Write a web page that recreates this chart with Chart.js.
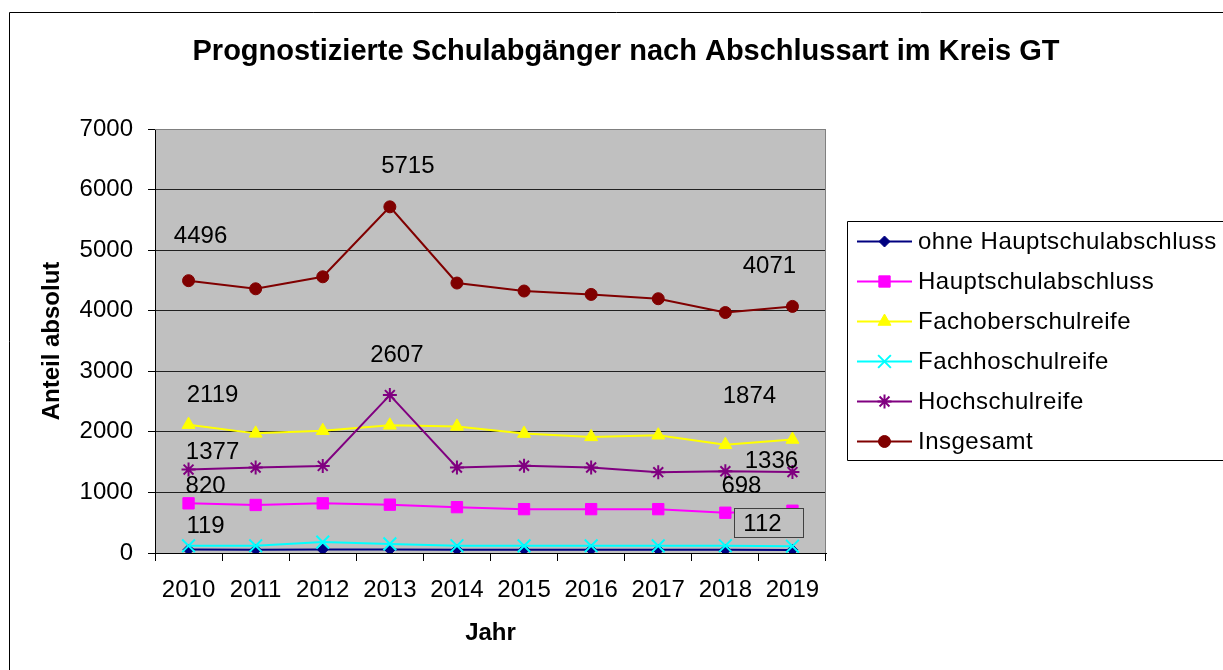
<!DOCTYPE html>
<html lang="de">
<head>
<meta charset="utf-8">
<title>Prognostizierte Schulabgänger nach Abschlussart im Kreis GT</title>
<script src="https://cdn.jsdelivr.net/npm/chart.js@4.4.1/dist/chart.umd.min.js"></script>
<style>
  html, body { margin: 0; padding: 0; background: #fff; }
  #chart { display: block; }
</style>
</head>
<body>
<canvas id="chart" width="1223" height="670" style="width:1223px;height:670px"></canvas>
<script>
// Schulabgänger Kreis GT — line chart, Excel look.

const years = ['2010', '2011', '2012', '2013', '2014', '2015', '2016', '2017', '2018', '2019'];
const yTicks = [0, 1000, 2000, 3000, 4000, 5000, 6000, 7000];

const ohneHauptschul = [56, 55, 58, 57, 55, 54, 54, 53, 52, 51];
const hauptschul = [820, 793, 820, 798, 757, 724, 724, 724, 665, 698];
const fachoberschul = [2119, 1975, 2020, 2108, 2090, 1972, 1917, 1944, 1788, 1874];
const fachhochschul = [119, 119, 180, 150, 120, 118, 119, 118, 120, 112];
const hochschul = [1377, 1410, 1438, 2607, 1412, 1440, 1412, 1335, 1350, 1336];
const insgesamt = [4496, 4362, 4560, 5715, 4457, 4325, 4269, 4198, 3970, 4071];

const FONT = "'Liberation Sans', Arial, sans-serif";
const PLOT_BG = '#C0C0C0';

// which point values get a label, and where it sits relative to the point
const labelSpots = [
  { ds: 5, i: 0, dx: 12, dy: -45 },
  { ds: 5, i: 3, dx: 18, dy: -41 },
  { ds: 5, i: 9, dx: -23, dy: -41 },
  { ds: 4, i: 0, dx: 24, dy: -18 },
  { ds: 4, i: 3, dx: 7, dy: -41 },
  { ds: 4, i: 9, dx: -21, dy: -12 },
  { ds: 2, i: 0, dx: 24, dy: -30 },
  { ds: 2, i: 9, dx: -43, dy: -44 },
  { ds: 1, i: 0, dx: 17, dy: -18 },
  { ds: 1, i: 9, dx: -51, dy: -25 },
  { ds: 3, i: 0, dx: 17, dy: -20 },
  { ds: 3, i: 9, dx: -30, dy: -23, box: { l: -28, r: 41, t: -15, b: 14 } },
];

function series(label, data, color, style, radius, bw) {
  return {
    label,
    data,
    borderColor: color,
    backgroundColor: color,
    borderWidth: 2,
    pointStyle: style,
    pointRadius: radius,
    pointHoverRadius: radius,
    pointBackgroundColor: color,
    pointBorderColor: color,
    pointBorderWidth: bw,
    tension: 0,
  };
}

const datasets = [
  series('ohne Hauptschulabschluss', ohneHauptschul, '#000080', 'rectRot', 5.5, 1),
  series('Hauptschulabschluss', hauptschul, '#FF00FF', 'rect', 8, 1),
  series('Fachoberschulreife', fachoberschul, '#FFFF00', 'triangle', 7.5, 1),
  series('Fachhoschulreife', fachhochschul, '#00FFFF', 'crossRot', 9, 2),
  series('Hochschulreife', hochschul, '#800080', 'star', 7, 2),
  series('Insgesamt', insgesamt, '#800000', 'circle', 6, 1),
];
// Excel paints later series on top
datasets.forEach((d, i) => { d.order = datasets.length - i; });

// ─── Plugins ───────────────────────────────────────────────────────────────

const frame = {
  id: 'frame',
  beforeDraw(chart) {
    const { ctx, chartArea: a } = chart;
    ctx.save();
    ctx.fillStyle = PLOT_BG;
    ctx.fillRect(a.left, a.top, a.right - a.left, a.bottom - a.top);
    // outer chart border (runs off the right and bottom)
    ctx.strokeStyle = '#000';
    ctx.lineWidth = 1;
    ctx.beginPath();
    ctx.moveTo(9.5, 700);
    ctx.lineTo(9.5, 12.5);
    ctx.lineTo(1300, 12.5);
    ctx.stroke();
    // title
    ctx.fillStyle = '#000';
    ctx.font = 'bold 29px ' + FONT;
    ctx.textAlign = 'center';
    ctx.textBaseline = 'middle';
    ctx.fillText('Prognostizierte Schulabgänger nach Abschlussart im Kreis GT', 626, 52);
    ctx.restore();
  },
  beforeDatasetsDraw(chart) {
    const { ctx, chartArea: a } = chart;
    ctx.save();
    ctx.strokeStyle = '#808080';
    ctx.lineWidth = 1;
    ctx.beginPath();
    ctx.moveTo(a.left, a.top + 0.5);
    ctx.lineTo(a.right - 0.5, a.top + 0.5);
    ctx.lineTo(a.right - 0.5, a.bottom);
    ctx.stroke();
    ctx.restore();
  }
};

const valueLabels = {
  id: 'valueLabels',
  afterDatasetsDraw(chart) {
    const { ctx } = chart;
    ctx.save();
    ctx.font = '24px ' + FONT;
    ctx.textAlign = 'center';
    ctx.textBaseline = 'middle';
    labelSpots.forEach(s => {
      const pt = chart.getDatasetMeta(s.ds).data[s.i];
      const x = pt.x + s.dx;
      const y = pt.y + s.dy;
      if (s.box) {
        ctx.fillStyle = PLOT_BG;
        ctx.fillRect(x + s.box.l, y + s.box.t, s.box.r - s.box.l, s.box.b - s.box.t);
        ctx.strokeStyle = '#404040';
        ctx.lineWidth = 1;
        ctx.strokeRect(Math.round(x + s.box.l) + 0.5, Math.round(y + s.box.t) + 0.5,
          Math.round(s.box.r - s.box.l), Math.round(s.box.b - s.box.t));
      }
      ctx.fillStyle = '#000';
      ctx.fillText(String(chart.data.datasets[s.ds].data[s.i]), x, y + 1);
    });
    ctx.restore();
  }
};

const boxLegend = {
  id: 'boxLegend',
  afterDraw(chart) {
    const { ctx } = chart;
    const left = 847.5, top = 221.5, bottom = 460.5, rowH = 40;
    ctx.save();
    ctx.strokeStyle = '#000';
    ctx.lineWidth = 1;
    ctx.beginPath();
    ctx.moveTo(1300, top);
    ctx.lineTo(left, top);
    ctx.lineTo(left, bottom);
    ctx.lineTo(1300, bottom);
    ctx.stroke();

    ctx.font = '24px ' + FONT;
    if ('letterSpacing' in ctx) ctx.letterSpacing = '0.5px';
    ctx.textAlign = 'left';
    ctx.textBaseline = 'middle';
    chart.data.datasets.forEach((d, i) => {
      const y = top + 20 + i * rowH;
      ctx.strokeStyle = d.borderColor;
      ctx.lineWidth = 2;
      ctx.beginPath();
      ctx.moveTo(857, y);
      ctx.lineTo(912, y);
      ctx.stroke();
      ctx.fillStyle = d.pointBackgroundColor;
      ctx.strokeStyle = d.pointBorderColor;
      ctx.lineWidth = d.pointBorderWidth;
      Chart.helpers.drawPoint(ctx, {
        pointStyle: d.pointStyle,
        rotation: 0,
        radius: d.pointRadius,
        borderWidth: d.pointBorderWidth
      }, 884.5, y);
      ctx.fillStyle = '#000';
      ctx.fillText(d.label, 918, y + 1);
    });
    ctx.restore();
  }
};

// ─── Chart ─────────────────────────────────────────────────────────────────

new Chart(document.getElementById('chart'), {
  type: 'line',
  data: { labels: years, datasets },
  plugins: [frame, valueLabels, boxLegend],
  options: {
    responsive: false,
    devicePixelRatio: 1,
    animation: false,
    events: [],
    layout: { padding: { left: 10, top: 129, right: 397, bottom: 0 } },
    plugins: {
      legend: { display: false },
      title: { display: false },
      tooltip: { enabled: false },
    },
    scales: {
      x: {
        type: 'category',
        offset: true,
        afterFit(scale) { scale.height = 117; },
        grid: { offset: true, drawOnChartArea: false, drawTicks: true, tickLength: 8, color: '#000' },
        border: { color: '#000', width: 1 },
        ticks: { color: '#000', font: { family: FONT, size: 24 }, padding: 15, maxRotation: 0, autoSkip: false },
        title: {
          display: true, text: 'Jahr', color: '#000',
          font: { family: FONT, size: 24, weight: 'bold' },
          padding: { top: 22, bottom: 22 }
        }
      },
      y: {
        min: yTicks[0],
        max: yTicks[yTicks.length - 1],
        afterFit(scale) { scale.width = 145; },
        afterBuildTicks(scale) { scale.ticks = yTicks.map(v => ({ value: v })); },
        grid: {
          color: c => (c.tick && c.tick.value === 7000 ? '#808080' : '#202020'),
          tickColor: '#000',
          tickLength: 7,
          lineWidth: 1
        },
        border: { color: '#000', width: 1 },
        ticks: {
          color: '#000',
          font: { family: FONT, size: 24 },
          padding: 15,
          callback: v => String(v)
        },
        title: {
          display: true, text: 'Anteil absolut', color: '#000',
          font: { family: FONT, size: 24, weight: 'bold' },
          padding: { top: 28, bottom: 28 }
        }
      }
    }
  }
});
</script>
</body>
</html>
